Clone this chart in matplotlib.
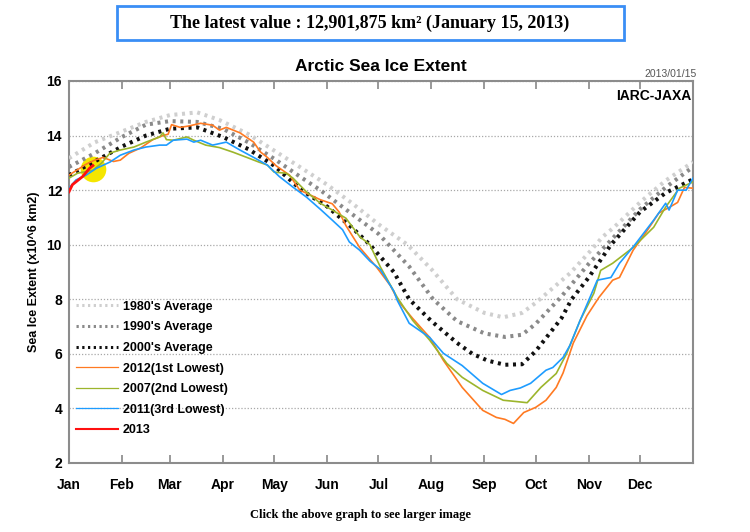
import matplotlib
matplotlib.use("Agg")
import matplotlib.pyplot as plt
from matplotlib.patches import Rectangle

# =========================================================
# DATA (day of year, extent in 10^6 km2)
# =========================================================
months = ["Jan", "Feb", "Mar", "Apr", "May", "Jun",
          "Jul", "Aug", "Sep", "Oct", "Nov", "Dec"]
month_start_days = [0, 31, 59, 90, 120, 151, 181, 212, 243, 273, 304, 334]
y_ticks = [2, 4, 6, 8, 10, 12, 14, 16]

days_1980s = [0, 15, 31, 45, 59, 75, 88, 105, 120, 135, 151, 166, 181, 198,
              212, 227, 243, 254, 265, 273, 293, 304, 312, 319, 334, 341,
              349, 365]
ext_1980s = [13.17, 13.75, 14.15, 14.5, 14.75, 14.85, 14.57, 14.05, 13.45,
             12.85, 12.2, 11.5, 10.75, 10.0, 9.1, 8.0, 7.5, 7.34, 7.5, 7.87,
             8.95, 9.7, 10.28, 10.65, 11.55, 11.93, 12.35, 13.03]

days_1990s = [0, 15, 31, 45, 59, 75, 90, 105, 120, 135, 147, 166, 181, 187,
              199, 213, 227, 243, 255, 265, 273, 288, 304, 319, 334, 349, 365]
ext_1990s = [12.85, 13.35, 13.95, 14.4, 14.53, 14.5, 14.25, 13.75, 13.15,
             12.5, 12.0, 11.1, 10.4, 10.0, 9.2, 8.0, 7.2, 6.75, 6.62, 6.7,
             7.1, 8.1, 9.3, 10.3, 11.3, 12.1, 12.85]

days_2000s = [0, 15, 31, 45, 59, 75, 90, 105, 120, 136, 151, 166, 176, 190,
              199, 212, 227, 236, 245, 255, 265, 273, 288, 294, 304, 317, 334,
              349, 365]
ext_2000s = [12.55, 13.05, 13.6, 14.0, 14.25, 14.3, 13.95, 13.5, 12.9, 12.0,
             11.4, 10.6, 10.0, 9.0, 8.0, 7.2, 6.4, 6.0, 5.75, 5.6, 5.62, 6.1,
             7.3, 8.0, 8.8, 10.0, 11.2, 11.9, 12.4]

days_2012 = [0, 5, 10, 15, 20, 26, 30, 35, 42, 49, 55, 58, 60, 65, 70, 77,
             84, 88, 92, 100, 108, 112, 116, 121, 129, 135, 147, 154, 158,
             162, 170, 180, 188, 193, 201, 211, 219, 230, 242, 250, 255, 260,
             266, 273, 279, 285, 289, 295, 303, 310, 318, 322, 330, 338, 345,
             352, 356, 360, 365]
ext_2012 = [12.55, 12.75, 12.95, 13.1, 13.2, 13.05, 13.1, 13.35, 13.55, 13.85,
            14.0, 14.05, 14.4, 14.3, 14.35, 14.45, 14.38, 14.2, 14.3, 14.1,
            13.76, 13.4, 13.2, 12.9, 12.55, 12.0, 11.65, 11.5, 11.2, 10.7,
            9.9, 9.17, 8.5, 7.9, 7.3, 6.6, 5.76, 4.77, 3.93, 3.67, 3.6, 3.45,
            3.85, 4.04, 4.3, 4.77, 5.3, 6.4, 7.4, 8.07, 8.7, 8.8, 9.8, 10.5,
            11.16, 11.4, 11.55, 12.1, 12.07]

days_2007 = [0, 5, 14, 19, 24, 30, 38, 45, 53, 55, 57, 61, 69, 73, 80, 88,
             96, 104, 111, 116, 120, 127, 131, 139, 147, 154, 162, 170, 176,
             182, 192, 201, 211, 221, 230, 242, 254, 262, 268, 276, 285, 291,
             299, 307, 311, 318, 330, 342, 349, 357, 365]
ext_2007 = [12.44, 12.62, 12.73, 12.99, 13.36, 13.47, 13.58, 13.76, 13.95,
            14.1, 13.85, 13.83, 13.95, 13.83, 13.65, 13.56, 13.39, 13.2, 13.03,
            12.92, 12.66, 12.62, 12.44, 11.93, 11.52, 11.27, 10.97, 10.3, 10.0,
            9.2, 8.07, 7.23, 6.5, 5.65, 5.14, 4.66, 4.3, 4.25, 4.21, 4.77,
            5.28, 6.0, 7.23, 8.22, 9.06, 9.32, 9.9, 10.64, 11.38, 12.07, 12.3]

days_2011 = [0, 4, 10, 16, 24, 30, 38, 45, 53, 57, 61, 69, 73, 77, 84, 92,
             100, 108, 116, 123, 131, 139, 147, 154, 160, 164, 170, 176, 182,
             186, 190, 192, 199, 211, 219, 230, 242, 253, 258, 264, 270, 279,
             283, 289, 293, 299, 304, 309, 317, 322, 331, 342, 349, 351, 356,
             361, 365]
ext_2011 = [12.07, 12.37, 12.55, 12.8, 13.03, 13.28, 13.47, 13.58, 13.65,
            13.65, 13.83, 13.87, 13.76, 13.83, 13.65, 13.76, 13.47, 13.2,
            12.92, 12.5, 12.11, 11.74, 11.3, 10.9, 10.55, 10.1, 9.8, 9.4, 9.1,
            8.7, 8.3, 7.96, 7.12, 6.6, 6.02, 5.57, 4.92, 4.51, 4.66, 4.75,
            4.92, 5.4, 5.5, 5.87, 6.31, 7.23, 7.96, 8.7, 8.8, 9.32, 10.0, 10.9,
            11.52, 11.27, 12.0, 12.0, 12.44]

days_2013 = [0, 2, 4, 6, 8, 10, 12, 14]
ext_2013 = [11.94, 12.2, 12.3, 12.4, 12.5, 12.65, 12.8, 12.9]

latest_text = "The latest value : 12,901,875 km\u00b2 (January 15, 2013)"

# =========================================================
# FIGURE
# =========================================================
fig = plt.figure(figsize=(7.5, 5.32), dpi=100)
ax = fig.add_axes([69 / 750, 1 - 463 / 532, 624 / 750, 382 / 532])

FONT = "Liberation Sans"
SERIF = "Liberation Serif"

dot = (0, (0.75, 1.15))
ax.plot(days_1980s, ext_1980s, color="#cfcfcf", lw=2.9, linestyle=dot,
        label="1980's Average", zorder=3)
ax.plot(days_1990s, ext_1990s, color="#8a8a8a", lw=2.9, linestyle=dot,
        label="1990's Average", zorder=3)
ax.plot(days_2000s, ext_2000s, color="#111111", lw=2.9, linestyle=dot,
        label="2000's Average", zorder=3)
ax.plot(days_2012, ext_2012, color="#ff7a22", lw=1.2,
        label="2012(1st Lowest)", zorder=4)
ax.plot(days_2007, ext_2007, color="#9cb52c", lw=1.2,
        label="2007(2nd Lowest)", zorder=4)
ax.plot(days_2011, ext_2011, color="#1e9cff", lw=1.2,
        label="2011(3rd Lowest)", zorder=4)
ax.plot(days_2013, ext_2013, color="#ff1010", lw=2,
        label="2013", zorder=6)

# highlight of the latest value
ax.scatter([days_2013[-1]], [ext_2013[-1] - 0.12], s=340, color="#f5e600",
           zorder=2, linewidths=0)

ax.set_xlim(0, 365)
ax.set_ylim(2, 16)
ax.set_xticks(month_start_days)
ax.set_xticklabels(months)
ax.set_yticks(y_ticks)
ax.tick_params(axis="x", direction="in", length=6, width=1.2, color="#888888",
               top=True, pad=11)
ax.tick_params(axis="y", length=0, pad=5)
for lab in ax.get_xticklabels() + ax.get_yticklabels():
    lab.set_fontfamily(FONT)
    lab.set_fontweight("bold")
    lab.set_fontsize(10)
ax.grid(axis="y", linestyle=(0, (1, 1.5)), color="#a8a8a8", lw=0.9)
for sp in ax.spines.values():
    sp.set_color("#8c8c8c")
    sp.set_linewidth(1.5)

ax.set_ylabel("Sea Ice Extent (x10^6 km2)", fontfamily=FONT,
              fontweight="bold", fontsize=9, labelpad=5)
ax.set_title("Arctic Sea Ice Extent", fontfamily=FONT, fontweight="bold",
             fontsize=12.5, pad=7)
ax.text(1.006, 1.004, "2013/01/15", transform=ax.transAxes, ha="right",
        va="bottom", fontfamily=FONT, fontsize=7.5, color="#555555")
ax.text(0.997, 0.96, "IARC-JAXA", transform=ax.transAxes, ha="right",
        va="center", fontfamily=FONT, fontweight="bold", fontsize=10)

leg = ax.legend(loc="upper left", bbox_to_anchor=(0.011, 0.425),
                frameon=False, handlelength=3.4, handletextpad=0.35,
                labelspacing=0.69, borderpad=0, borderaxespad=0,
                prop={"family": FONT, "weight": "bold", "size": 9})
for h in leg.legend_handles:
    h.set_linewidth(h.get_linewidth() * 0.75)

# header box and footer
fig.patches.append(Rectangle((117 / 750, 1 - 40 / 532), 507 / 750, 34 / 532,
                             transform=fig.transFigure, fill=False,
                             edgecolor="#3a8ef5", lw=2))
fig.text(370 / 750, 1 - 23 / 532, latest_text, ha="center", va="center",
         fontfamily=SERIF, fontweight="bold", fontsize=13)
fig.text(361 / 750, 1 - 515 / 532, "Click the above graph to see larger image",
         ha="center", va="center", fontfamily=SERIF, fontweight="bold",
         fontsize=9)

fig.savefig("out.png", dpi=100)
